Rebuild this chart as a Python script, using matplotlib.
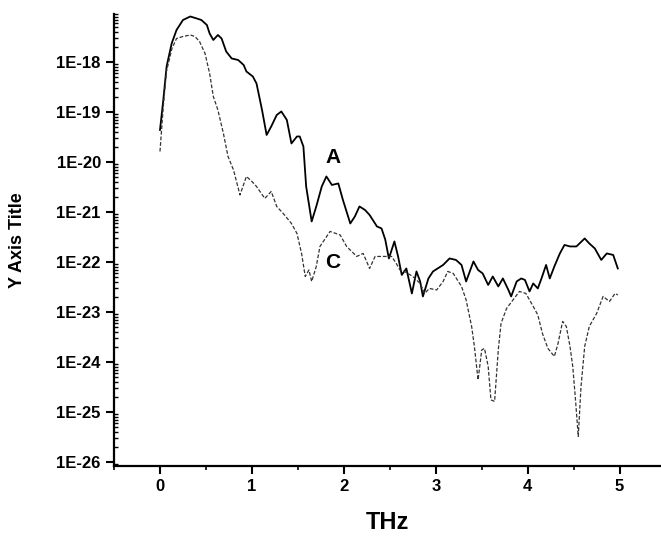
import numpy as np
import matplotlib.pyplot as plt
from matplotlib.ticker import LogLocator, MultipleLocator, FixedLocator

plt.rcParams['font.family'] = ['Liberation Sans', 'DejaVu Sans']

# curve A (solid) : THz, log10(y)
a_x = [0.0, 0.036, 0.072, 0.127, 0.18, 0.25, 0.33, 0.40, 0.45, 0.51, 0.54, 0.58, 0.63, 0.67,
       0.72, 0.78, 0.85, 0.91, 0.94, 1.01, 1.05, 1.11, 1.16, 1.21, 1.27, 1.32, 1.38, 1.43,
       1.49, 1.52, 1.56, 1.59, 1.65, 1.70, 1.76, 1.81, 1.87, 1.94, 1.99, 2.07, 2.12, 2.17,
       2.23, 2.28, 2.36, 2.41, 2.45, 2.49, 2.55, 2.59, 2.63, 2.68, 2.74, 2.79, 2.83, 2.86,
       2.92, 2.97, 3.08, 3.15, 3.22, 3.28, 3.33, 3.41, 3.46, 3.51, 3.57, 3.62, 3.68, 3.73,
       3.79, 3.82, 3.88, 3.93, 3.97, 4.02, 4.06, 4.11, 4.15, 4.20, 4.24, 4.29, 4.35, 4.40,
       4.46, 4.53, 4.62, 4.67, 4.73, 4.80, 4.86, 4.93, 4.98]
a_log = [-19.36, -18.76, -18.09, -17.63, -17.36, -17.16, -17.09, -17.13, -17.16, -17.26,
         -17.43, -17.56, -17.46, -17.53, -17.79, -17.93, -17.96, -18.06, -18.19, -18.29,
         -18.43, -18.96, -19.46, -19.29, -19.06, -18.99, -19.16, -19.63, -19.49, -19.49,
         -19.69, -20.49, -21.19, -20.89, -20.49, -20.29, -20.46, -20.43, -20.76, -21.23,
         -21.09, -20.89, -20.96, -21.06, -21.29, -21.33, -21.55, -21.93, -21.59, -21.89,
         -22.26, -22.13, -22.63, -22.19, -22.39, -22.69, -22.33, -22.19, -22.06, -21.93,
         -21.96, -22.06, -22.39, -21.99, -22.16, -22.23, -22.46, -22.29, -22.49, -22.33,
         -22.56, -22.69, -22.39, -22.33, -22.36, -22.59, -22.43, -22.53, -22.33, -22.06,
         -22.33, -22.09, -21.83, -21.66, -21.69, -21.69, -21.53, -21.63, -21.73, -21.96,
         -21.83, -21.86, -22.13]

# curve C (dashed)
c_x = [0.0, 0.036, 0.07, 0.13, 0.18, 0.25, 0.33, 0.38, 0.43, 0.49, 0.54, 0.58, 0.63, 0.69,
       0.74, 0.80, 0.87, 0.94, 1.00, 1.05, 1.14, 1.21, 1.27, 1.34, 1.43, 1.49, 1.54, 1.58,
       1.62, 1.65, 1.70, 1.74, 1.85, 1.96, 2.03, 2.14, 2.21, 2.28, 2.34, 2.43, 2.52, 2.57,
       2.61, 2.66, 2.75, 2.83, 2.88, 2.93, 3.01, 3.08, 3.13, 3.19, 3.28, 3.33, 3.39, 3.42,
       3.46, 3.50, 3.53, 3.57, 3.60, 3.64, 3.68, 3.71, 3.77, 3.84, 3.91, 3.98, 4.06, 4.11,
       4.16, 4.22, 4.29, 4.33, 4.38, 4.42, 4.46, 4.49, 4.52, 4.55, 4.58, 4.62, 4.67, 4.75,
       4.82, 4.89, 4.95, 4.98]
c_log = [-19.79, -18.89, -18.19, -17.73, -17.53, -17.49, -17.46, -17.49, -17.59, -17.83,
         -18.23, -18.69, -18.96, -19.43, -19.89, -20.16, -20.66, -20.29, -20.39, -20.49,
         -20.73, -20.59, -20.89, -21.03, -21.23, -21.43, -21.83, -22.29, -22.16, -22.39,
         -22.09, -21.69, -21.39, -21.46, -21.69, -21.89, -21.83, -22.13, -21.89, -21.89,
         -21.89, -22.03, -22.16, -22.19, -22.29, -22.43, -22.63, -22.53, -22.56, -22.39,
         -22.19, -22.23, -22.49, -22.76, -23.29, -23.69, -24.36, -23.76, -23.73, -24.09,
         -24.76, -24.79, -23.76, -23.23, -22.93, -22.76, -22.59, -22.63, -22.89, -23.06,
         -23.43, -23.73, -23.89, -23.63, -23.19, -23.29, -23.69, -24.09, -24.76, -25.49,
         -24.49, -23.69, -23.29, -23.03, -22.69, -22.79, -22.63, -22.66]

x_ticks = [0, 1, 2, 3, 4, 5]
y_ticks = [1e-18, 1e-19, 1e-20, 1e-21, 1e-22, 1e-23, 1e-24, 1e-25, 1e-26]
y_labels = ['1E-18', '1E-19', '1E-20', '1E-21', '1E-22', '1E-23', '1E-24', '1E-25', '1E-26']

fig = plt.figure(figsize=(6.61, 5.38), dpi=100)
ax = fig.add_axes([0.1725, 0.134, 0.8275, 0.840])

ax.plot(a_x, 10 ** np.array(a_log), color='black', lw=1.3)
ax.plot(c_x, 10 ** np.array(c_log), color='#333333', lw=0.9, ls=(0, (3, 1.5)))

ax.set_yscale('log')
ax.set_xlim(-0.5, 5.45)
ax.set_ylim(10 ** -26.08, 10 ** -17.04)

ax.yaxis.set_major_locator(FixedLocator(y_ticks))
ax.set_yticks(y_ticks)
ax.set_yticklabels(y_labels)
ax.yaxis.set_minor_locator(LogLocator(base=10, subs=np.arange(2, 10), numticks=50))
ax.xaxis.set_major_locator(FixedLocator(x_ticks))
ax.xaxis.set_minor_locator(MultipleLocator(0.5))

for s in ['top', 'right']:
    ax.spines[s].set_visible(False)
for s in ['left', 'bottom']:
    ax.spines[s].set_linewidth(1.6)

ax.tick_params(which='major', direction='out', length=6, width=1.5, labelsize=12)
ax.tick_params(axis='y', which='minor', direction='in', length=3, width=1.0)
ax.tick_params(axis='x', which='minor', direction='out', length=3, width=1.2)
for lab in ax.get_xticklabels() + ax.get_yticklabels():
    lab.set_fontweight('bold')

ax.set_xlabel('THz', fontsize=17, fontweight='bold', labelpad=12)
ax.set_ylabel('Y Axis Title', fontsize=13, fontweight='bold', labelpad=22)

ax.text(1.88, 10 ** -19.92, 'A', fontsize=15, fontweight='bold', ha='center', va='center')
ax.text(1.88, 10 ** -22.02, 'C', fontsize=15, fontweight='bold', ha='center', va='center')

fig.savefig('out.png', dpi=100)
